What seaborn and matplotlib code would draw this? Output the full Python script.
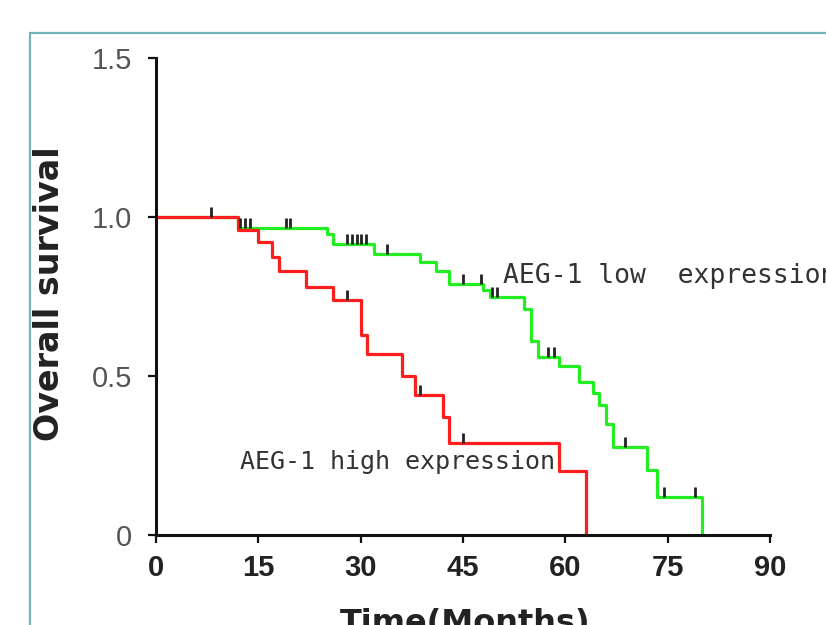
import numpy as np
import pandas as pd
import matplotlib
matplotlib.use('Agg')
import matplotlib.pyplot as plt
import matplotlib.patches as patches
import seaborn as sns

# Kaplan-Meier steps (months, survival after the event)
low_time = [0, 12, 25, 26, 32, 38.7, 41, 43, 48, 49, 54, 55, 56, 59, 62, 64, 65, 66, 67, 72, 73.4, 80]
low_surv = [1.0, 0.965, 0.945, 0.915, 0.885, 0.857, 0.83, 0.79, 0.77, 0.75, 0.71, 0.61, 0.56,
            0.533, 0.48, 0.445, 0.41, 0.35, 0.277, 0.204, 0.12, 0.0]
high_time = [0, 12, 15, 17, 18, 22, 26, 30, 31, 36, 38, 42, 43, 59, 63]
high_surv = [1.0, 0.96, 0.92, 0.875, 0.83, 0.78, 0.74, 0.63, 0.57, 0.50, 0.44, 0.37, 0.29, 0.20, 0.0]

# censored observations
low_cens_t = [12.3, 13.0, 13.8, 19.0, 19.7, 28.0, 28.7, 29.4, 30.1, 30.8, 33.8, 45.0, 47.7,
              49.3, 50.0, 57.5, 58.3, 68.8, 74.4, 79.0]
low_cens_s = [0.965, 0.965, 0.965, 0.965, 0.965, 0.915, 0.915, 0.915, 0.915, 0.915, 0.885, 0.79, 0.79,
              0.75, 0.75, 0.56, 0.56, 0.277, 0.12, 0.12]
high_cens_t = [8, 28, 38.7, 45]
high_cens_s = [1.0, 0.74, 0.44, 0.29]

x_ticks = [0, 15, 30, 45, 60, 75, 90]
y_ticks = [0, 0.5, 1.0, 1.5]
y_ticklabels = ['0', '0.5', '1.0', '1.5']

curves = pd.concat([
    pd.DataFrame({'time': low_time, 'surv': low_surv, 'group': 'low'}),
    pd.DataFrame({'time': high_time, 'surv': high_surv, 'group': 'high'}),
], ignore_index=True)
cens = pd.concat([
    pd.DataFrame({'time': low_cens_t, 'surv': low_cens_s}),
    pd.DataFrame({'time': high_cens_t, 'surv': high_cens_s}),
], ignore_index=True)

sns.set_style('ticks')
plt.rcParams['font.family'] = ['Liberation Sans', 'DejaVu Sans']

fig = plt.figure(figsize=(8.26, 6.25), dpi=100)
ax = fig.add_axes([156 / 826, 1 - 535 / 625, (770 - 156) / 826, (535 - 58) / 625])

sns.lineplot(data=curves, x='time', y='surv', hue='group', hue_order=['low', 'high'],
             palette={'low': '#22ee22', 'high': '#ff1e1e'}, drawstyle='steps-post',
             estimator=None, sort=False, legend=False, linewidth=2.3, ax=ax)
# censor ticks pointing upward from the curve
tick_marker = [(0, 0), (0, 1)]
sns.scatterplot(data=cens, x='time', y='surv', marker=tick_marker, s=200, color='k',
                edgecolor='#222222', linewidth=2.0, legend=False, ax=ax, zorder=5)

ax.set_xlim(0, 90)
ax.set_ylim(0, 1.5)
ax.set_xticks(x_ticks)
ax.set_xticklabels([str(t) for t in x_ticks], fontsize=21, fontweight='bold', color='#222222')
ax.set_yticks(y_ticks)
ax.set_yticklabels(y_ticklabels, fontsize=21, color='#555555')
ax.tick_params(axis='both', length=6, width=1.6, color='#111111')
ax.tick_params(axis='x', pad=8)
ax.tick_params(axis='y', pad=11)
ax.set_xlabel('')
ax.set_ylabel('')
sns.despine(ax=ax)
for side in ['left', 'bottom']:
    ax.spines[side].set_linewidth(2.2)
    ax.spines[side].set_color('#111111')
for line in ax.lines:
    line.set_clip_on(False)

ax.text(50.9, 0.815, 'AEG-1 low  expression', fontsize=19, family='DejaVu Sans Mono',
        color='#333333', va='center', ha='left', clip_on=False)
ax.text(12.3, 0.229, 'AEG-1 high expression', fontsize=18, family='DejaVu Sans Mono',
        color='#333333', va='center', ha='left')

fig.text(50 / 826, 1 - 294 / 625, 'Overall survival', rotation=90, fontsize=24,
         fontweight='bold', family='DejaVu Sans', color='#222222', ha='center', va='center')
fig.text(465 / 826, 1 - 608 / 625, 'Time(Months)', fontsize=23, fontweight='bold',
         family='DejaVu Sans', color='#222222', ha='center', va='top')

frame = patches.Rectangle((30 / 826, -0.2), 2, 1.2 - 33 / 625, transform=fig.transFigure,
                          fill=False, edgecolor='#72b4b4', linewidth=1.6)
fig.patches.append(frame)

fig.savefig('out.png', dpi=100)
